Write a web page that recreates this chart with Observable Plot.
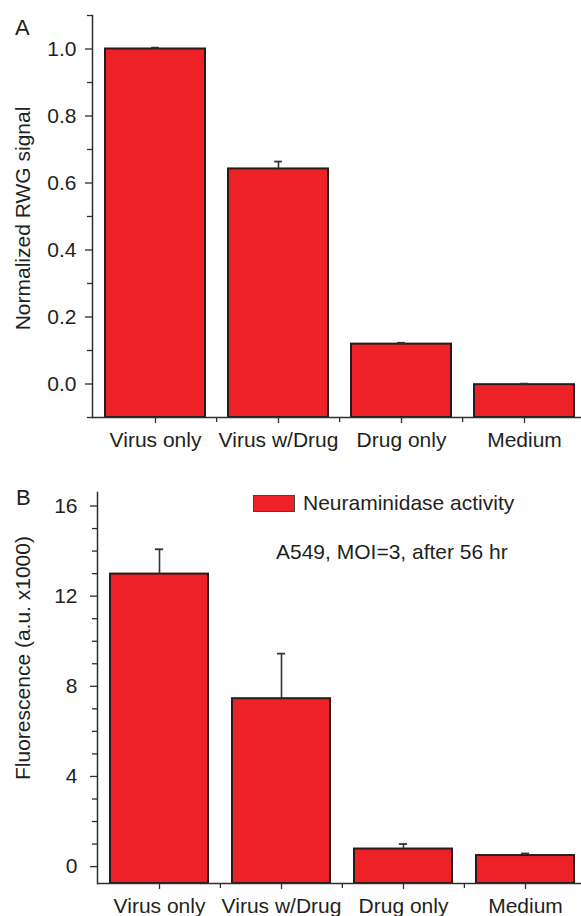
<!DOCTYPE html>
<html><head><meta charset="utf-8">
<script src="https://cdn.jsdelivr.net/npm/d3@7"></script>
<script src="https://cdn.jsdelivr.net/npm/@observablehq/plot@0.6"></script>
<style>
body{margin:0;background:#fff;}
#wrap{position:relative;width:581px;height:916px;overflow:hidden;font-family:"Liberation Sans",Arial,Helvetica,sans-serif;color:#231f20;}
.panel{position:absolute;left:0;}
.lab{position:absolute;font-size:21px;line-height:21px;white-space:nowrap;}
.big{font-size:22px;line-height:22px;}
.swatch{position:absolute;background:#ec2227;border:1.5px solid #444;box-sizing:border-box;}
</style></head><body><div id="wrap"></div>
<script>
// ---- data ----
const categories = ["Virus only", "Virus w/Drug", "Drug only", "Medium"];
const rwgValues = [1.0, 0.642, 0.119, -0.002];
const rwgErrors = [0.004, 0.022, 0.004, 0.003];
const fluorValues = [12.98, 7.45, 0.78, 0.49];
const fluorErrors = [1.1, 2.0, 0.22, 0.09];
const rwgTicks = [0.0, 0.2, 0.4, 0.6, 0.8, 1.0];
const rwgMinorTicks = [-0.1, 0.1, 0.3, 0.5, 0.7, 0.9, 1.1];
const fluorTicks = [0, 4, 8, 12, 16];
const fluorMinorTicks = [1, 2, 3, 5, 6, 7, 9, 10, 11, 13, 14, 15];
const rwgDomain = [-0.1, 1.1];
const fluorDomain = [-0.75, 16.6];
const rwgLabel = "Normalized RWG signal";
const fluorLabel = "Fluorescence (a.u. x1000)";
const legendLabel = "Neuraminidase activity";
const noteLabel = "A549, MOI=3, after 56 hr";

const FONT = '"Liberation Sans", Arial, Helvetica, sans-serif';
const INK = "#231f20";
const AXIS = "#2e2e2e";
const RED = "#ec2227";
const W = 581;

function panel(o) {
  const data = categories.map((c, i) => ({cat: c, value: o.values[i], err: o.errors[i]}));
  const n = categories.length;
  const step = (W - o.marginLeft - o.marginRight) / (n - o.pi + 2 * o.po);
  const bw = step * (1 - o.pi);
  const capW = 8;
  return Plot.plot({
    width: W, height: o.height,
    marginTop: o.marginTop, marginBottom: o.marginBottom,
    marginLeft: o.marginLeft, marginRight: o.marginRight,
    style: {fontFamily: FONT, fontSize: "21px", color: INK, background: "white"},
    x: {domain: categories, paddingInner: o.pi, paddingOuter: o.po, axis: null},
    y: {domain: o.domain, axis: null},
    marks: [
      Plot.barY(data, {x: "cat", y1: o.domain[0], y2: "value", fill: RED, stroke: "#2a1b1b", strokeWidth: 2}),
      Plot.ruleX(data, {x: "cat", y1: "value", y2: d => d.value + d.err, stroke: "#333", strokeWidth: 1.6}),
      Plot.tickY(data, {x: "cat", y: d => d.value + d.err, stroke: "#333", strokeWidth: 1.8,
        insetLeft: (bw - capW) / 2, insetRight: (bw - capW) / 2}),
      Plot.frame({anchor: "left", stroke: AXIS, strokeWidth: 1.5}),
      Plot.ruleY([o.domain[0]], {stroke: AXIS, strokeWidth: 1.5}),
      Plot.axisY(o.ticks, {tickSize: 7, tickPadding: o.tickPadY, tickFormat: o.format, label: null, stroke: AXIS, strokeWidth: 1.3, fill: INK}),
      Plot.axisY(o.minor, {tickSize: 5, tickFormat: () => "", label: null, stroke: AXIS, strokeWidth: 1.3}),
      Plot.axisX(categories, {tickSize: 6, tickPadding: 9, label: null, stroke: AXIS, strokeWidth: 1.3, fill: INK}),
      Plot.axisX(categories.slice(1), {tickSize: 5, dx: -step / 2, tickFormat: () => "", label: null, stroke: AXIS, strokeWidth: 1.3}),
      Plot.text([o.label], {text: d => d, frameAnchor: "left", rotate: -90, dx: o.labelDx, dy: o.labelDy,
        fontSize: 21, fill: INK, textAnchor: "middle", lineAnchor: "middle"})
    ]
  });
}

const wrap = document.getElementById("wrap");

const topPanel = panel({
  values: rwgValues, errors: rwgErrors, domain: rwgDomain, ticks: rwgTicks, minor: rwgMinorTicks,
  format: d3.format(".1f"), label: rwgLabel, height: 460, marginTop: 15, marginBottom: 43,
  marginLeft: 92, marginRight: -6, pi: 0.19, po: 0.095, tickPadY: 9, labelDx: -69, labelDy: 2
});
topPanel.classList.add("panel"); topPanel.style.top = "0px";
wrap.appendChild(topPanel);

const bottomPanel = panel({
  values: fluorValues, errors: fluorErrors, domain: fluorDomain, ticks: fluorTicks, minor: fluorMinorTicks,
  format: d3.format("d"), label: fluorLabel, height: 456, marginTop: 32, marginBottom: 33,
  marginLeft: 97, marginRight: -5, pi: 0.2, po: 0.1, tickPadY: 13, labelDx: -74, labelDy: -30
});
bottomPanel.classList.add("panel"); bottomPanel.style.top = "460px";
wrap.appendChild(bottomPanel);

function addLabel(text, left, topPx, cls) {
  const d = document.createElement("div");
  d.className = "lab" + (cls ? " " + cls : ""); d.textContent = text;
  d.style.left = left + "px"; d.style.top = topPx + "px";
  wrap.appendChild(d);
}
addLabel("A", 15, 17, "big");
addLabel("B", 16, 487, "big");
const sw = document.createElement("div");
sw.className = "swatch";
Object.assign(sw.style, {left: "253px", top: "495px", width: "42px", height: "17px"});
wrap.appendChild(sw);
addLabel(legendLabel, 303, 492);
addLabel(noteLabel, 276, 541);
</script>
</body></html>
